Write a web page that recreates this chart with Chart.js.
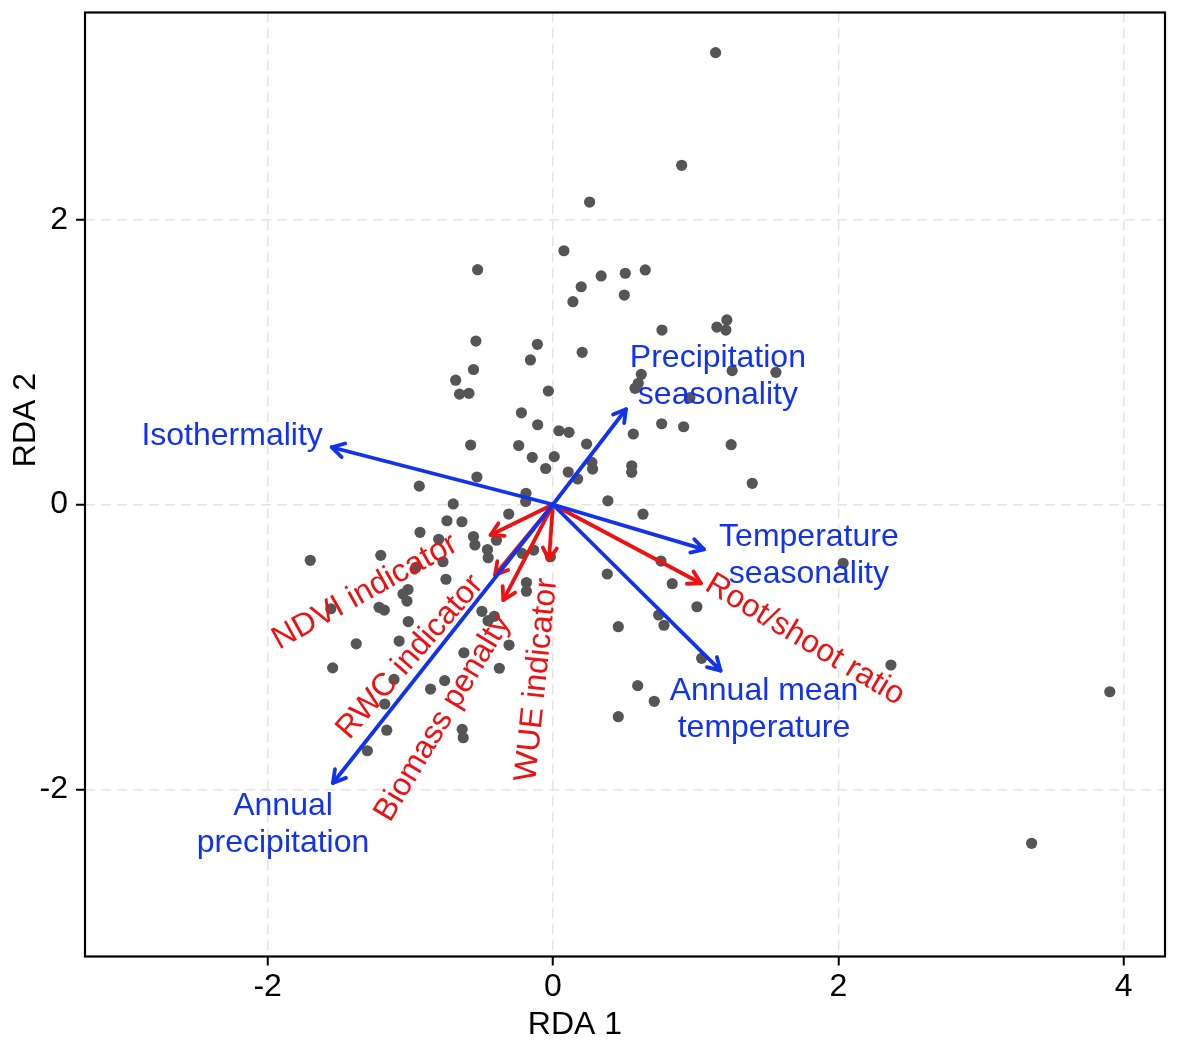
<!DOCTYPE html>
<html><head><meta charset="utf-8">
<script src="https://cdn.jsdelivr.net/npm/chart.js@4.4.0/dist/chart.umd.min.js"></script>
<style>html,body{margin:0;padding:0;background:#fff;}#wrap{width:1181px;height:1043px;}</style>
</head><body><div id="wrap"><canvas id="c" width="1181" height="1043"></canvas></div>
<script>
// ---- data ----
const siteX = [1.140,0.902,0.257,0.077,-0.528,0.338,0.507,0.647,0.198,0.140,0.500,1.219,1.149,1.212,0.764,-0.540,-0.109,0.205,-0.158,-0.557,
 -0.682,-0.655,-0.589,-0.032,0.619,0.598,0.575,1.256,1.563,0.960,-0.221,-0.107,0.042,0.112,0.762,0.916,0.563,1.249,-0.577,-0.240,
 -0.145,0.009,-0.051,0.236,0.107,0.173,0.273,0.278,0.552,0.552,1.397,-0.533,-0.937,-0.189,-0.191,0.385,-0.699,-0.310,0.631,-0.743,
 -0.638,-0.932,-0.557,-0.547,-0.801,-0.396,-0.459,-0.454,-0.217,-0.135,-0.018,-1.701,-1.207,-0.771,-0.960,-0.750,-0.186,-0.186,-1.016,-1.051,
 -1.023,-1.557,-1.219,-1.182,-0.498,-0.411,-0.455,-1.014,0.381,0.757,0.836,1.009,2.034,0.458,0.741,0.778,1.042,0.594,0.710,0.458,
 -0.308,-1.379,-1.078,-0.624,-1.544,-0.376,-1.114,-0.759,-0.858,-1.179,-1.165,-0.636,-0.629,-1.301,2.369,3.903,3.355];
const siteY = [3.173,2.382,2.124,1.782,1.649,1.605,1.624,1.647,1.529,1.424,1.471,1.296,1.246,1.225,1.225,1.148,1.125,1.069,1.015,0.948,
 0.873,0.775,0.781,0.797,0.914,0.851,0.816,0.940,0.928,0.750,0.644,0.560,0.518,0.507,0.567,0.546,0.495,0.420,0.418,0.414,
 0.331,0.336,0.253,0.425,0.228,0.179,0.296,0.249,0.272,0.226,0.149,0.193,0.129,0.079,0.021,0.026,0.004,-0.067,-0.068,-0.114,
 -0.121,-0.195,-0.225,-0.284,-0.244,-0.251,-0.316,-0.374,-0.343,-0.320,-0.367,-0.392,-0.357,-0.402,-0.441,-0.525,-0.548,-0.609,-0.597,-0.629,
 -0.678,-0.732,-0.722,-0.741,-0.750,-0.785,-0.816,-0.822,-0.488,-0.397,-0.556,-0.718,-0.413,-0.858,-0.776,-0.848,-1.080,-1.272,-1.382,-1.490,
 -0.987,-0.978,-0.959,-1.041,-1.147,-1.150,-1.228,-1.237,-1.296,-1.401,-1.585,-1.579,-1.638,-1.729,-1.127,-1.315,-2.379];

const envNames = ['Isothermality','Precipitation seasonality','Temperature seasonality','Annual mean temperature','Annual precipitation'];
const envX = [-1.551, 0.512, 1.058, 1.175, -1.542];
const envY = [ 0.402, 0.669, -0.315, -1.167, -1.956];

const traitNames = ['NDVI indicator','RWC indicator','Biomass penalty','WUE indicator','Root/shoot ratio'];
const traitX = [-0.437, -0.406, -0.348, -0.028, 1.037];
const traitY = [-0.214, -0.495, -0.671, -0.390, -0.553];

const xTicks = [-2, 0, 2, 4];
const yTicks = [-2, 0, 2];
const xTitle = 'RDA 1';
const yTitle = 'RDA 2';

// ---- label layout (data-space anchors, lines, rotation) ----
const envLabelLayout = [
  {x:-2.249, y:0.481, lines:['Isothermality'], rot:0},
  {x:1.156, y:0.899, lines:['Precipitation','seasonality'], rot:0},
  {x:1.794, y:-0.358, lines:['Temperature','seasonality'], rot:0},
  {x:1.479, y:-1.443, lines:['Annual mean','temperature'], rot:0},
  {x:-1.892, y:-2.247, lines:['Annual','precipitation'], rot:0}
];
const traitLabelLayout = [
  {x:-1.317, y:-0.614, rot:-29},
  {x:-1.002, y:-1.071, rot:-49},
  {x:-0.771, y:-1.499, rot:-59},
  {x:-0.112, y:-1.232, rot:-84},
  {x:1.766, y:-0.951, rot:31}
];

const BLUE = '#1133ee';
const RED = '#ee1111';
const FONT = '"Liberation Sans", Arial, sans-serif';
const FS = 32;

function arrow(ctx, x0, y0, x1, y1, color) {
  ctx.save();
  ctx.strokeStyle = color; ctx.lineWidth = 3.8; ctx.lineCap = 'round'; ctx.lineJoin = 'round';
  ctx.beginPath(); ctx.moveTo(x0, y0); ctx.lineTo(x1, y1); ctx.stroke();
  const a = Math.atan2(y1 - y0, x1 - x0), L = 14, w = Math.PI / 6;
  ctx.beginPath();
  ctx.moveTo(x1 - L * Math.cos(a - w), y1 - L * Math.sin(a - w));
  ctx.lineTo(x1, y1);
  ctx.lineTo(x1 - L * Math.cos(a + w), y1 - L * Math.sin(a + w));
  ctx.stroke();
  ctx.restore();
}

const biplot = {
  id: 'biplot',
  afterDatasetsDraw(chart) {
    const ctx = chart.ctx, xs = chart.scales.x, ys = chart.scales.y;
    const ox = xs.getPixelForValue(0), oy = ys.getPixelForValue(0);
    traitX.forEach((v, i) => arrow(ctx, ox, oy, xs.getPixelForValue(v), ys.getPixelForValue(traitY[i]), RED));
    envX.forEach((v, i) => arrow(ctx, ox, oy, xs.getPixelForValue(v), ys.getPixelForValue(envY[i]), BLUE));
    ctx.save();
    ctx.font = FS + 'px ' + FONT; ctx.textAlign = 'center'; ctx.textBaseline = 'middle';
    ctx.fillStyle = BLUE;
    envLabelLayout.forEach(l => {
      const px = xs.getPixelForValue(l.x), py = ys.getPixelForValue(l.y);
      const lh = 37, n = l.lines.length;
      l.lines.forEach((t, k) => ctx.fillText(t, px, py + (k - (n - 1) / 2) * lh));
    });
    ctx.fillStyle = RED;
    traitLabelLayout.forEach((l, i) => {
      const px = xs.getPixelForValue(l.x), py = ys.getPixelForValue(l.y);
      ctx.save(); ctx.translate(px, py); ctx.rotate(l.rot * Math.PI / 180);
      ctx.fillText(traitNames[i], 0, 0); ctx.restore();
    });
    ctx.restore();
  },
  afterDraw(chart) {
    const ctx = chart.ctx, a = chart.chartArea;
    ctx.save();
    ctx.strokeStyle = '#000'; ctx.lineWidth = 2.2;
    ctx.strokeRect(a.left, a.top, a.right - a.left, a.bottom - a.top);
    ctx.fillStyle = '#000'; ctx.font = FS + 'px ' + FONT;
    ctx.textAlign = 'center'; ctx.textBaseline = 'middle';
    ctx.fillText(xTitle, a.left + 0.4537 * (a.right - a.left), a.bottom + 69);
    ctx.translate(26, a.top + 0.4317 * (a.bottom - a.top));
    ctx.rotate(-Math.PI / 2);
    ctx.fillText(yTitle, 0, 0);
    ctx.restore();
  }
};

new Chart(document.getElementById('c'), {
  type: 'scatter',
  data: {
    datasets: [{
      data: siteX.map((v, i) => ({x: v, y: siteY[i]})),
      backgroundColor: '#555555', borderColor: '#555555', borderWidth: 0,
      pointRadius: 5.6, pointHoverRadius: 5.6
    }]
  },
  options: {
    responsive: false, animation: false, devicePixelRatio: 1,
    layout: {padding: {left: 0, top: 12.5, right: 16, bottom: 0}},
    plugins: {legend: {display: false}, tooltip: {enabled: false}},
    scales: {
      x: {
        type: 'linear', min: -3.28, max: 4.29,
        afterBuildTicks: s => { s.ticks = xTicks.map(v => ({value: v})); },
        afterFit: s => { s.height = 86.5; s.paddingLeft = 0; s.paddingRight = 0; },
        grid: {color: '#e4e4e4', lineWidth: 1.5, tickColor: '#000', tickWidth: 2, tickLength: 9, drawTicks: true},
        border: {display: false, dash: [10, 6]},
        ticks: {color: '#000', font: {size: FS, family: FONT}, padding: 2, maxRotation: 0}
      },
      y: {
        type: 'linear', min: -3.174, max: 3.455,
        afterBuildTicks: s => { s.ticks = yTicks.map(v => ({value: v})); },
        afterFit: s => { s.width = 85; s.paddingTop = 0; s.paddingBottom = 0; },
        grid: {color: '#e4e4e4', lineWidth: 1.5, tickColor: '#000', tickWidth: 2, tickLength: 9, drawTicks: true},
        border: {display: false, dash: [10, 6]},
        ticks: {color: '#000', font: {size: FS, family: FONT}, padding: 8}
      }
    }
  },
  plugins: [biplot]
});
</script></body></html>
